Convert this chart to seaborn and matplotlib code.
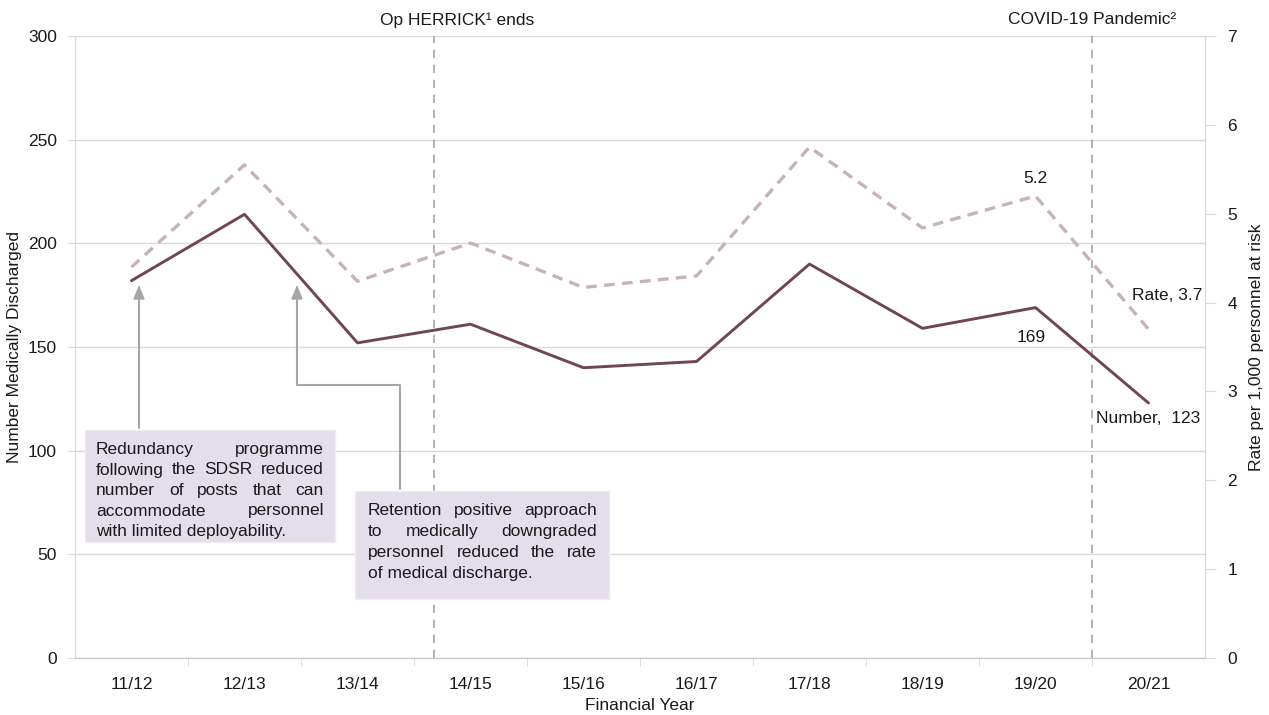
import matplotlib
matplotlib.use("Agg")
import matplotlib.pyplot as plt
from matplotlib.patches import Rectangle, Polygon
from matplotlib.lines import Line2D
import numpy as np
import pandas as pd
import seaborn as sns

# ---- data -------------------------------------------------------------
years = ["11/12", "12/13", "13/14", "14/15", "15/16",
         "16/17", "17/18", "18/19", "19/20", "20/21"]
number_discharged = [182, 214, 152, 161, 140, 143, 190, 159, 169, 123]
rate_per_1000 = [4.40, 5.55, 4.24, 4.67, 4.17, 4.30, 5.75, 4.84, 5.2, 3.7]

events = ["Op HERRICK\u00b9 ends", "COVID-19 Pandemic\u00b2"]
event_positions = [2.675, 8.5]
event_label_shift = [23, 0]  # horizontal nudge of each caption, pixels

note_sdsr = ["Redundancy programme",
             "following the SDSR reduced",
             "number of posts that can",
             "accommodate personnel",
             "with limited deployability."]
note_retention = ["Retention positive approach",
                  "to medically downgraded",
                  "personnel reduced the rate",
                  "of medical discharge."]

# ---- styling ----------------------------------------------------------
W, H = 1269, 715
sns.set_style("white")
plt.rcParams["font.family"] = ["Liberation Sans", "DejaVu Sans"]
FS = 12.5
NUM_COLOR = "#6F4657"
RATE_COLOR = "#C6B2BA"
GRID = "#D9D9D9"
EVENT = "#A6A6A6"
TXT = "#1A1A1A"

df = pd.DataFrame({"pos": np.arange(len(years)),
                   "year": years,
                   "number": number_discharged,
                   "rate": rate_per_1000})

fig = plt.figure(figsize=(W / 100, H / 100), dpi=100)
AX_L, AX_R, AX_T, AX_B = 75, 1205, 36, 658
ax = fig.add_axes([AX_L / W, 1 - AX_B / H, (AX_R - AX_L) / W, (AX_B - AX_T) / H])
ax2 = ax.twinx()

sns.lineplot(data=df, x="pos", y="number", ax=ax, color=NUM_COLOR,
             linewidth=2.1, zorder=4)
sns.lineplot(data=df, x="pos", y="rate", ax=ax2, color=RATE_COLOR,
             linewidth=2.4, linestyle=(0, (3.2, 2.2)), zorder=4)

# axes ranges / ticks
ax.set_xlim(-0.5, 9.5)
ax.set_ylim(0, 300)
ax2.set_ylim(0, 7)
ax.set_yticks(np.arange(0, 301, 50))
ax2.set_yticks(np.arange(0, 8, 1))
ax.set_xticks(df["pos"])
ax.set_xticklabels(years)
ax.set_xticks(np.arange(0.5, 9.5, 1), minor=True)

ax.yaxis.grid(True, color=GRID, linewidth=1.0)
ax.set_axisbelow(True)
ax2.grid(False)

for a in (ax, ax2):
    a.spines["top"].set_visible(False)
    a.spines["left"].set_color(GRID)
    a.spines["right"].set_color(GRID)
    a.spines["bottom"].set_color("#C8C8C8")

ax.tick_params(axis="y", which="major", length=5, color=GRID, labelsize=FS,
               labelcolor=TXT, pad=8)
ax2.tick_params(axis="y", which="major", length=8, color=GRID, labelsize=FS,
                labelcolor=TXT, pad=8)
ax.tick_params(axis="x", which="major", length=0, labelsize=FS,
               labelcolor=TXT, pad=14)
ax.tick_params(axis="x", which="minor", length=6, color=GRID, bottom=True)

ax_w, ax_h = AX_R - AX_L, AX_B - AX_T
ax.set_xlabel("Financial Year", fontsize=FS, color=TXT)
ax.xaxis.set_label_coords(0.5, (AX_B - 706) / ax_h)
ax.set_ylabel("Number Medically Discharged", fontsize=FS, color=TXT)
ax.yaxis.set_label_coords((15 - AX_L) / ax_w, 0.5)
ax2.set_ylabel("Rate per 1,000 personnel at risk", fontsize=FS, color=TXT)
ax2.yaxis.set_label_coords((1256 - AX_L) / ax_w, 0.5)
ax.xaxis.label.set_va("center")
ax.yaxis.label.set_va("center")
ax2.yaxis.label.set_va("center")

# event markers
for pos, label, shift in zip(event_positions, events, event_label_shift):
    ax.axvline(pos, color=EVENT, linewidth=1.2, linestyle=(0, (5, 4)), zorder=3)
    ax.annotate(label, (pos, 1.0), xycoords=ax.get_xaxis_transform(),
                textcoords="offset pixels", xytext=(shift, 16),
                ha="center", va="center", fontsize=FS, color=TXT)

# value labels
i19, i20 = years.index("19/20"), years.index("20/21")
ax2.annotate(f"{rate_per_1000[i19]}", (i19, rate_per_1000[i19]),
             textcoords="offset pixels", xytext=(0, 17), ha="center",
             va="center", fontsize=FS, color=TXT)
ax2.annotate(f"Rate, {rate_per_1000[i20]}", (i20, rate_per_1000[i20]),
             textcoords="offset pixels", xytext=(19, 34), ha="center",
             va="center", fontsize=FS, color=TXT)
ax.annotate(f"{number_discharged[i19]}", (i19, number_discharged[i19]),
            textcoords="offset pixels", xytext=(-4, -30), ha="center",
            va="center", fontsize=FS, color=TXT)
ax.annotate(f"Number,  {number_discharged[i20]}", (i20, number_discharged[i20]),
            textcoords="offset pixels", xytext=(0, -16), ha="center",
            va="center", fontsize=FS, color=TXT)


# ---- note boxes with justified text (figure pixel coordinates) --------
def fx(x):
    return x / W


def fy(y):
    return 1 - y / H


renderer = fig.canvas.get_renderer()


def word_width(word):
    t = fig.text(0, 0, word, fontsize=FS)
    w = t.get_window_extent(renderer).width
    t.remove()
    return w


def note_box(lines, box, text_x0, text_x1, y_first, dy):
    x0, y0, x1, y1 = box
    fig.patches.append(Rectangle((fx(x0), fy(y1)), fx(x1 - x0), (y1 - y0) / H,
                                 transform=fig.transFigure, facecolor="#E4DEEB",
                                 edgecolor="#EFEAF3", linewidth=1, zorder=5))
    for i, line in enumerate(lines):
        base = y_first + i * dy + 5  # baseline sits a little below line centre
        words = line.split()
        if i == len(lines) - 1 or len(words) == 1:
            fig.text(fx(text_x0), fy(base), line, fontsize=FS, color=TXT,
                     ha="left", va="baseline", zorder=6)
            continue
        widths = [word_width(w) for w in words]
        gap = (text_x1 - text_x0 - sum(widths)) / (len(words) - 1)
        x = text_x0
        for w, wd in zip(words, widths):
            fig.text(fx(x), fy(base), w, fontsize=FS, color=TXT,
                     ha="left", va="baseline", zorder=6)
            x += wd + gap


note_box(note_sdsr, (85, 430, 335, 542), 96, 324, 449, 20.5)
note_box(note_retention, (355, 491, 609, 599), 368, 597, 510, 21)


# ---- arrows from notes to the series ----------------------------------
def arrow_path(points):
    xs = [fx(p[0]) for p in points]
    ys = [fy(p[1]) for p in points]
    fig.lines.append(Line2D(xs, ys, transform=fig.transFigure, color=EVENT,
                            linewidth=1.5, zorder=5))
    tip = points[-1]
    head = [(tip[0], tip[1]), (tip[0] - 5, tip[1] + 12), (tip[0] + 5, tip[1] + 12)]
    fig.patches.append(Polygon([(fx(a), fy(b)) for a, b in head],
                               closed=True, transform=fig.transFigure,
                               facecolor=EVENT, edgecolor=EVENT, zorder=5))


arrow_path([(139, 428), (139, 290), (139, 287)])
arrow_path([(400, 489), (400, 385), (297, 385), (297, 290), (297, 287)])

fig.savefig("out.png", dpi=100)
